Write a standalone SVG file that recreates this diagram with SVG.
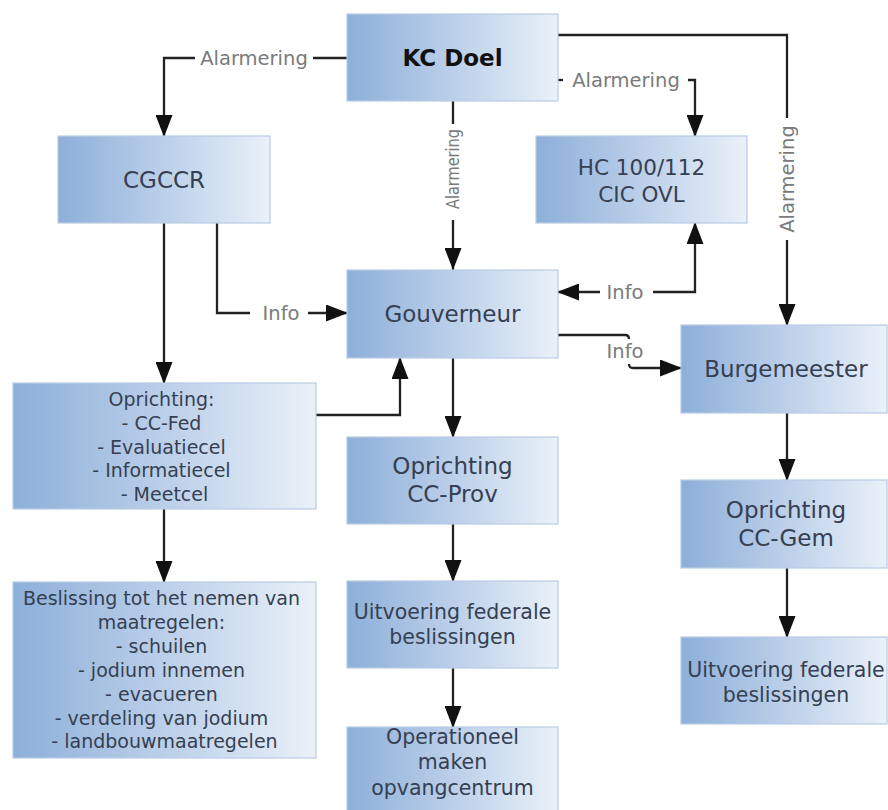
<svg xmlns="http://www.w3.org/2000/svg" width="888" height="810" viewBox="0 0 888 810">
<defs>
<linearGradient id="bg" x1="0" y1="0" x2="1" y2="0">
<stop offset="0" stop-color="#8dafd9"/>
<stop offset="0.5" stop-color="#bbcfe9"/>
<stop offset="1" stop-color="#eaf1f9"/>
</linearGradient>
<marker id="ah" viewBox="0 0 22 17" refX="22" refY="8.5" markerUnits="userSpaceOnUse" markerWidth="22" markerHeight="17" orient="auto" preserveAspectRatio="none">
<path d="M0,0 L22,8.5 L0,17 z" fill="#111"/>
</marker>
<style>
.box{fill:url(#bg);stroke:#b9cce5;stroke-width:1.2}
.t{font-family:"DejaVu Sans","Liberation Sans",sans-serif;fill:#354052;text-anchor:middle}
.b{font-weight:bold;fill:#111}
.lbl{font-family:"DejaVu Sans","Liberation Sans",sans-serif;fill:#7a7a7a;text-anchor:middle;font-size:19.5px}
.ln{fill:none;stroke:#222;stroke-width:2.3}
.arr{marker-end:url(#ah)}
</style>
</defs>
<rect width="888" height="810" fill="#fff"/>

<g id="connectors">
<path class="ln" d="M347,58 H313"/>
<path class="ln arr" d="M195,58 H164 V137"/>
<text class="lbl" x="254" y="65">Alarmering</text>

<path class="ln" d="M453,101 V124"/>
<text class="lbl" style="font-size:17px" transform="translate(453,169) rotate(-90)" x="0" y="6" textLength="80" lengthAdjust="spacingAndGlyphs">Alarmering</text>
<path class="ln arr" d="M453,220 V270"/>

<path class="ln" d="M558,80 H563"/>
<text class="lbl" x="626" y="87">Alarmering</text>
<path class="ln arr" d="M688,80 H695 V137"/>

<path class="ln" d="M558,35 H787 V118"/>
<text class="lbl" transform="translate(787,179) rotate(-90)" x="0" y="7">Alarmering</text>
<path class="ln arr" d="M787,240 V326"/>

<path class="ln arr" d="M164,223 V384"/>

<path class="ln" d="M217,223 V313 H250"/>
<text class="lbl" x="281" y="320">Info</text>
<path class="ln arr" d="M308,313 H348"/>

<path class="ln arr" d="M316,415 H400 V357"/>

<path class="ln arr" d="M653,292 H695 V222"/>
<path class="ln arr" d="M600,292 H557"/>
<text class="lbl" x="625" y="299">Info</text>

<path class="ln" d="M558,335 H625 Q629,335 629,339"/>
<text class="lbl" x="625" y="358">Info</text>
<path class="ln arr" d="M629,364 Q629,368 633,368 H682"/>

<path class="ln arr" d="M453,358 V438"/>
<path class="ln arr" d="M453,524 V582"/>
<path class="ln arr" d="M453,668 V728"/>
<path class="ln arr" d="M164,509 V583"/>
<path class="ln arr" d="M787,413 V481"/>
<path class="ln arr" d="M787,568 V638"/>
</g>

<g id="kc-doel">
<rect class="box" x="347" y="14" width="211" height="87"/>
<text class="t b" x="452.5" y="66" font-size="23">KC Doel</text>
</g>

<g id="cgccr">
<rect class="box" x="58" y="136" width="212" height="87"/>
<text class="t" x="164" y="188" font-size="23">CGCCR</text>
</g>

<g id="hc">
<rect class="box" x="536" y="136" width="211" height="87"/>
<text class="t" x="641.5" y="175" font-size="21.5">HC 100/112</text>
<text class="t" x="641.5" y="202" font-size="21.5">CIC OVL</text>
</g>

<g id="gouverneur">
<rect class="box" x="347" y="270" width="211" height="88"/>
<text class="t" x="452.5" y="322" font-size="23">Gouverneur</text>
</g>

<g id="burgemeester">
<rect class="box" x="681" y="325" width="206" height="88"/>
<text class="t" x="786" y="377" font-size="23">Burgemeester</text>
</g>

<g id="oprichting-fed">
<rect class="box" x="13" y="383" width="303" height="126"/>
<text class="t" font-size="19">
<tspan x="164.5" y="406">Oprichting:</tspan>
<tspan x="164.5" y="430">- CC-Fed</tspan>
<tspan x="164.5" y="454">- Evaluatiecel</tspan>
<tspan x="164.5" y="477">- Informatiecel</tspan>
<tspan x="164.5" y="501">- Meetcel</tspan>
</text>
</g>

<g id="oprichting-prov">
<rect class="box" x="347" y="437" width="211" height="87"/>
<text class="t" x="452.5" y="474" font-size="23">Oprichting</text>
<text class="t" x="452.5" y="502" font-size="23">CC-Prov</text>
</g>

<g id="oprichting-gem">
<rect class="box" x="681" y="480" width="206" height="88"/>
<text class="t" x="786" y="518" font-size="23">Oprichting</text>
<text class="t" x="786" y="546" font-size="23">CC-Gem</text>
</g>

<g id="beslissing">
<rect class="box" x="13" y="582" width="303" height="176"/>
<text class="t" font-size="19">
<tspan x="164.5" y="605">Beslissing tot het nemen van</tspan>
<tspan x="164.5" y="629">maatregelen:</tspan>
<tspan x="164.5" y="653">- schuilen</tspan>
<tspan x="164.5" y="677">- jodium innemen</tspan>
<tspan x="164.5" y="701">- evacueren</tspan>
<tspan x="164.5" y="725">- verdeling van jodium</tspan>
<tspan x="164.5" y="748">- landbouwmaatregelen</tspan>
</text>
</g>

<g id="uitvoering-prov">
<rect class="box" x="347" y="581" width="211" height="87"/>
<text class="t" x="452.5" y="619" font-size="20.5">Uitvoering federale</text>
<text class="t" x="452.5" y="644" font-size="20.5">beslissingen</text>
</g>

<g id="uitvoering-gem">
<rect class="box" x="681" y="637" width="206" height="87"/>
<text class="t" x="786" y="677" font-size="20.5">Uitvoering federale</text>
<text class="t" x="786" y="702" font-size="20.5">beslissingen</text>
</g>

<g id="operationeel">
<rect class="box" x="347" y="727" width="211" height="90"/>
<text class="t" x="452.5" y="744" font-size="20.5">Operationeel</text>
<text class="t" x="452.5" y="769" font-size="20.5">maken</text>
<text class="t" x="452.5" y="795" font-size="20.5">opvangcentrum</text>
</g>
</svg>
